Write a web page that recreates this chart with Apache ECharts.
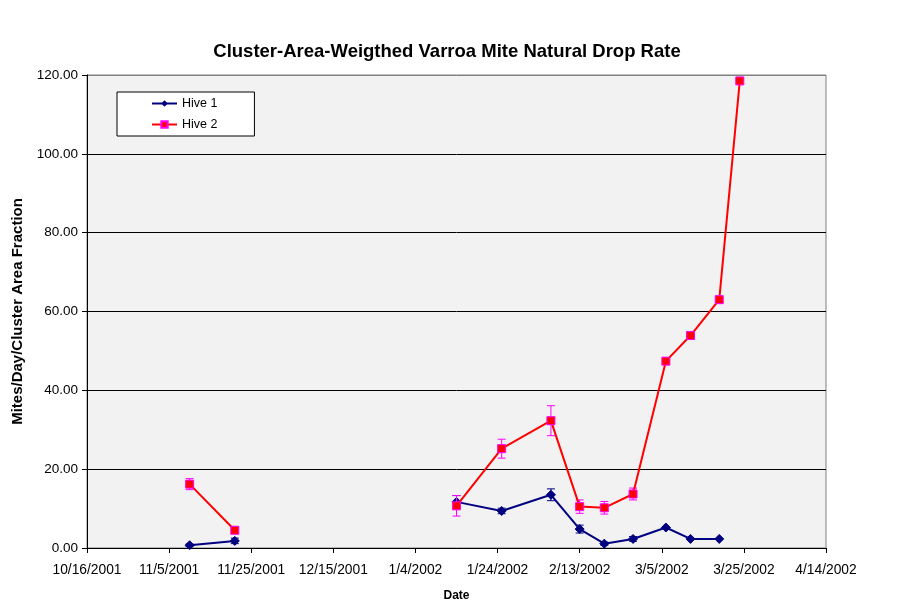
<!DOCTYPE html>
<html><head><meta charset="utf-8">
<script src="https://cdn.jsdelivr.net/npm/echarts@6/dist/echarts.min.js"></script>
<style>html,body{margin:0;padding:0;background:#fff}#c{width:903px;height:615px}</style>
</head><body><div id="c"></div>
<script>
const startDate = '2001-10-16';
const tickDays = [0, 20, 40, 60, 80, 100, 120, 140, 160, 180];
const dates = ['2001-11-10','2001-11-21','2002-01-14','2002-01-25','2002-02-06','2002-02-13','2002-02-19','2002-02-26','2002-03-06','2002-03-12','2002-03-19','2002-03-24'];
const hive1 = [0.7, 1.8, 11.7, 9.4, 13.5, 4.8, 1.1, 2.3, 5.2, 2.3, 2.3, null];
const hive1Err = [0.3, 0.7, 1.6, 0.7, 1.5, 1.0, 0.4, 0.6, 0, 0, 0, 0];
const hive2 = [16.2, 4.5, 10.7, 25.2, 32.3, 10.5, 10.2, 13.7, 47.4, 53.9, 63.0, 118.5];
const hive2Err = [1.4, 0.8, 2.6, 2.4, 3.8, 1.7, 1.6, 1.5, 0, 0, 0, 0];
const gapAfterIndex = 1; // no readings between 11/21/2001 and 1/14/2002

const DAY = 86400000;
const p0 = startDate.split('-').map(Number);
const t0 = Date.UTC(p0[0], p0[1]-1, p0[2]);
function toDay(s) { const p = s.split('-').map(Number); return Math.round((Date.UTC(p[0], p[1]-1, p[2]) - t0) / DAY); }
function dayLabel(d) { const t = new Date(t0 + d * DAY); return (t.getUTCMonth()+1) + '/' + t.getUTCDate() + '/' + t.getUTCFullYear(); }

function lineData(vals) {
  const out = [];
  dates.forEach((d, i) => {
    if (vals[i] !== null) out.push([toDay(d), vals[i]]);
    if (i === gapAfterIndex) out.push([(toDay(dates[i]) + toDay(dates[i+1])) / 2, '-']);
  });
  return out;
}
function errData(vals, errs) {
  const out = [];
  dates.forEach((d, i) => { if (vals[i] !== null && errs[i] > 0) out.push([toDay(d), vals[i], errs[i]]); });
  return out;
}
function errSeries(name, vals, errs, color, z) {
  return {
    type: 'custom', name: name + ' err', z: z, silent: true,
    data: errData(vals, errs),
    encode: { x: 0, y: 1 },
    renderItem: function (params, api) {
      const x = api.value(0), y = api.value(1), e = api.value(2);
      const hi = api.coord([x, y + e]), lo = api.coord([x, y - e]);
      const w = 4;
      const st = { stroke: color, lineWidth: 1 };
      return { type: 'group', children: [
        { type: 'line', shape: { x1: hi[0], y1: hi[1], x2: lo[0], y2: lo[1] }, style: st },
        { type: 'line', shape: { x1: hi[0]-w, y1: hi[1], x2: hi[0]+w, y2: hi[1] }, style: st },
        { type: 'line', shape: { x1: lo[0]-w, y1: lo[1], x2: lo[0]+w, y2: lo[1] }, style: st }
      ]};
    }
  };
}

const chart = echarts.init(document.getElementById('c'));
const font = '"Liberation Sans", Arial, sans-serif';
chart.setOption({
  animation: false,
  textStyle: { fontFamily: font },
  title: { text: 'Cluster-Area-Weigthed Varroa Mite Natural Drop Rate', left: 442, textAlign: 'center', top: 37,
    textStyle: { fontFamily: font, fontSize: 18.5, fontWeight: 'bold', color: '#000' } },
  legend: {
    left: 117, top: 92, orient: 'vertical', backgroundColor: '#fff', borderColor: '#000', borderWidth: 1,
    padding: [5, 37, 5, 34], itemGap: 8, itemWidth: 25, itemHeight: 8,
    textStyle: { fontFamily: font, fontSize: 12.5, color: '#000' },
    data: ['Hive 1', 'Hive 2']
  },
  grid: { left: 87, right: 77, top: 75, bottom: 67, show: true, backgroundColor: '#F2F2F2', borderColor: '#808080', borderWidth: 1 },
  xAxis: {
    type: 'value', min: tickDays[0], max: tickDays[tickDays.length-1], interval: 20,
    name: 'Date', nameLocation: 'middle', nameGap: 42,
    nameTextStyle: { fontFamily: font, fontSize: 12, fontWeight: 'bold', color: '#000' },
    axisLine: { lineStyle: { color: '#000', width: 1 } },
    axisTick: { show: true, length: 5, lineStyle: { color: '#000' } },
    axisLabel: { fontFamily: font, fontSize: 13.8, color: '#000', margin: 15, formatter: v => dayLabel(v) },
    splitLine: { show: false }
  },
  yAxis: {
    type: 'value', min: 0, max: 120, interval: 20,
    name: 'Mites/Day/Cluster Area Fraction', nameLocation: 'middle', nameGap: 57, nameRotate: 90,
    nameTextStyle: { fontFamily: font, fontSize: 15, fontWeight: 'bold', color: '#000' },
    axisLine: { show: true, lineStyle: { color: '#000', width: 1 } },
    axisTick: { show: true, length: 5, lineStyle: { color: '#000' } },
    axisLabel: { fontFamily: font, fontSize: 13.5, color: '#000', margin: 9, formatter: v => v.toFixed(2) },
    splitLine: { show: true, lineStyle: { color: ['#000', '#000', '#000', '#000', '#000', '#000', '#808080'], width: 1 } }
  },
  series: [
    errSeries('Hive 1', hive1, hive1Err, '#000080', 3),
    { name: 'Hive 1', type: 'line', z: 4, data: lineData(hive1), connectNulls: false,
      symbol: 'diamond', symbolSize: 9, lineStyle: { color: '#000080', width: 2 },
      itemStyle: { color: '#000080', borderColor: '#000080' } },
    errSeries('Hive 2', hive2, hive2Err, '#FF00FF', 5),
    { name: 'Hive 2', type: 'line', z: 6, data: lineData(hive2), connectNulls: false,
      symbol: 'rect', symbolSize: 8, lineStyle: { color: '#FF0000', width: 2 },
      itemStyle: { color: '#FF0000', borderColor: '#FF00FF', borderWidth: 1 } }
  ]
});
</script></body></html>
